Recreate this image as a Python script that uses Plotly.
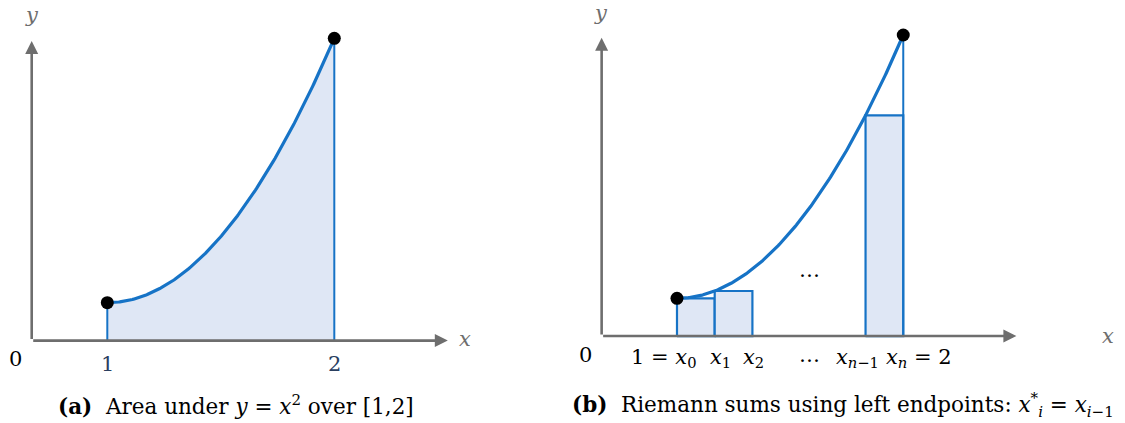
import numpy as np
import plotly.graph_objects as go

# ---------------- data ----------------
x_start, x_end = 1.0, 2.0          # interval [1, 2]
y_start, y_end = 1.0, 4.0          # curve height at the endpoints (as drawn)
n_sub = 6                          # subintervals in the Riemann picture
rect_indices = [0, 1, 5]           # rectangles shown: x0-x1, x1-x2, x_{n-1}-x_n
origin_x, origin_y = 0.667, 0.57   # where the drawn axes cross
x_arrow_tip, y_arrow_tip = 2.5, 3.97

left_ticks = ["0", "1", "2"]
right_ticks = ["0", "1 = <i>x</i><sub>0</sub>", "<i>x</i><sub>1</sub>", "<i>x</i><sub>2</sub>",
               "…", "<i>x</i><sub><i>n</i>−1</sub>", "<i>x</i><sub><i>n</i></sub> = 2"]


def f(x):
    # drawn curve (parabola through the two endpoints, as shown in the picture)
    t = (np.asarray(x) - x_start) / (x_end - x_start)
    return y_start + (y_end - y_start) * t ** 2


xs = np.linspace(x_start, x_end, 200)
ys = f(xs)
dx = (x_end - x_start) / n_sub
grid = x_start + dx * np.arange(n_sub + 1)

BLUE = "#1673c6"
FILL = "#dfe7f5"
GRAY = "#6e6e6e"
FONT = "DejaVu Serif"
FS = 21

fig = go.Figure()

# ---------- left panel (a) ----------
fig.add_trace(go.Scatter(
    x=np.concatenate([xs, [x_end, x_start]]),
    y=np.concatenate([ys, [origin_y, origin_y]]),
    fill="toself", fillcolor=FILL, mode="none", xaxis="x", yaxis="y", hoverinfo="skip"))
for xv in [x_start, x_end]:
    fig.add_trace(go.Scatter(x=[xv, xv], y=[origin_y, f(xv)], mode="lines",
                             line=dict(color=BLUE, width=2), xaxis="x", yaxis="y"))
fig.add_trace(go.Scatter(x=xs, y=ys, mode="lines", line=dict(color=BLUE, width=3.2),
                         xaxis="x", yaxis="y"))
fig.add_trace(go.Scatter(x=[x_start, x_end], y=[y_start, y_end], mode="markers",
                         marker=dict(color="black", size=13), xaxis="x", yaxis="y"))

# ---------- right panel (b) ----------
for i in rect_indices:
    a, b = grid[i], grid[i + 1]
    h = float(f(a))
    fig.add_trace(go.Scatter(x=[a, b, b, a, a], y=[origin_y, origin_y, h, h, origin_y],
                             fill="toself", fillcolor=FILL, mode="lines",
                             line=dict(color=BLUE, width=2.2), xaxis="x2", yaxis="y2"))
fig.add_trace(go.Scatter(x=[x_end, x_end], y=[origin_y, y_end], mode="lines",
                         line=dict(color=BLUE, width=2), xaxis="x2", yaxis="y2"))
fig.add_trace(go.Scatter(x=xs, y=ys, mode="lines", line=dict(color=BLUE, width=3.2),
                         xaxis="x2", yaxis="y2"))
fig.add_trace(go.Scatter(x=[x_start, x_end], y=[y_start, y_end], mode="markers",
                         marker=dict(color="black", size=13), xaxis="x2", yaxis="y2"))

annotations = []
# axes with arrowheads
for xr, yr in [("x", "y"), ("x2", "y2")]:
    annotations.append(dict(x=x_arrow_tip, y=origin_y, ax=origin_x, ay=origin_y,
                            xref=xr, yref=yr, axref=xr, ayref=yr, text="", showarrow=True,
                            arrowhead=2, arrowsize=1.0, arrowwidth=2.6, arrowcolor=GRAY,
                            standoff=0))
    annotations.append(dict(x=origin_x, y=y_arrow_tip, ax=origin_x, ay=origin_y,
                            xref=xr, yref=yr, axref=xr, ayref=yr, text="", showarrow=True,
                            arrowhead=2, arrowsize=1.0, arrowwidth=2.6, arrowcolor=GRAY,
                            standoff=0))

W, H = 1125, 423


def px(xp, yp, text, size=FS, color="black", xanchor="center", family=FONT):
    annotations.append(dict(x=xp / W, y=1 - yp / H, xref="paper", yref="paper", text=text,
                            showarrow=False, xanchor=xanchor, yanchor="middle",
                            font=dict(family=family, size=size, color=color)))


# axis letters
px(32, 15, "<i>y</i>", color=GRAY)
px(465, 339, "<i>x</i>", color=GRAY)
px(601, 13, "<i>y</i>", color=GRAY)
px(1108, 336, "<i>x</i>", color=GRAY)

# left tick labels
px(15, 359, left_ticks[0])
for xv, lab in zip([x_start, x_end], left_ticks[1:]):
    annotations.append(dict(x=xv, y=1 - 364 / H, xref="x", yref="paper", text=lab,
                            showarrow=False, yanchor="middle", font=dict(family=FONT, size=FS)))

# right tick labels
px(585, 355, right_ticks[0])
px(699, 358, right_ticks[1], xanchor="right")
px(720, 358, right_ticks[2])
px(753, 358, right_ticks[3])
px(809, 355, right_ticks[4])
px(857, 358, right_ticks[5])
px(884, 358, right_ticks[6], xanchor="left")

# dots inside the plot
px(809, 270, "…")

# captions
px(236, 405, "<b>(a)</b>\u00a0\u00a0Area under <i>y</i> = <i>x</i><sup>2</sup> over [1,2]", size=21.5)
px(843, 405, "<b>(b)</b>\u00a0\u00a0Riemann sums using left endpoints: <i>x</i><sup>*</sup><sub><i>i</i></sub> = <i>x</i><sub><i>i</i>−1</sub>", size=21.5)

fig.update_layout(
    width=W, height=H, margin=dict(l=0, r=0, t=0, b=0),
    paper_bgcolor="white", plot_bgcolor="white", showlegend=False,
    xaxis=dict(domain=[0, 0.5], range=[0.5273, 3.0053], visible=False),
    yaxis=dict(domain=[0, 1], range=[-0.365, 4.4347], visible=False),
    xaxis2=dict(domain=[0.5, 1], range=[0.494, 2.980], visible=False),
    yaxis2=dict(domain=[0, 1], range=[-0.4207, 4.399], visible=False, anchor="x2"),
    annotations=annotations,
)

fig.write_html("out.html", config={"displayModeBar": False},
               post_script="document.body.style.margin='0';document.body.style.overflow='hidden';")
